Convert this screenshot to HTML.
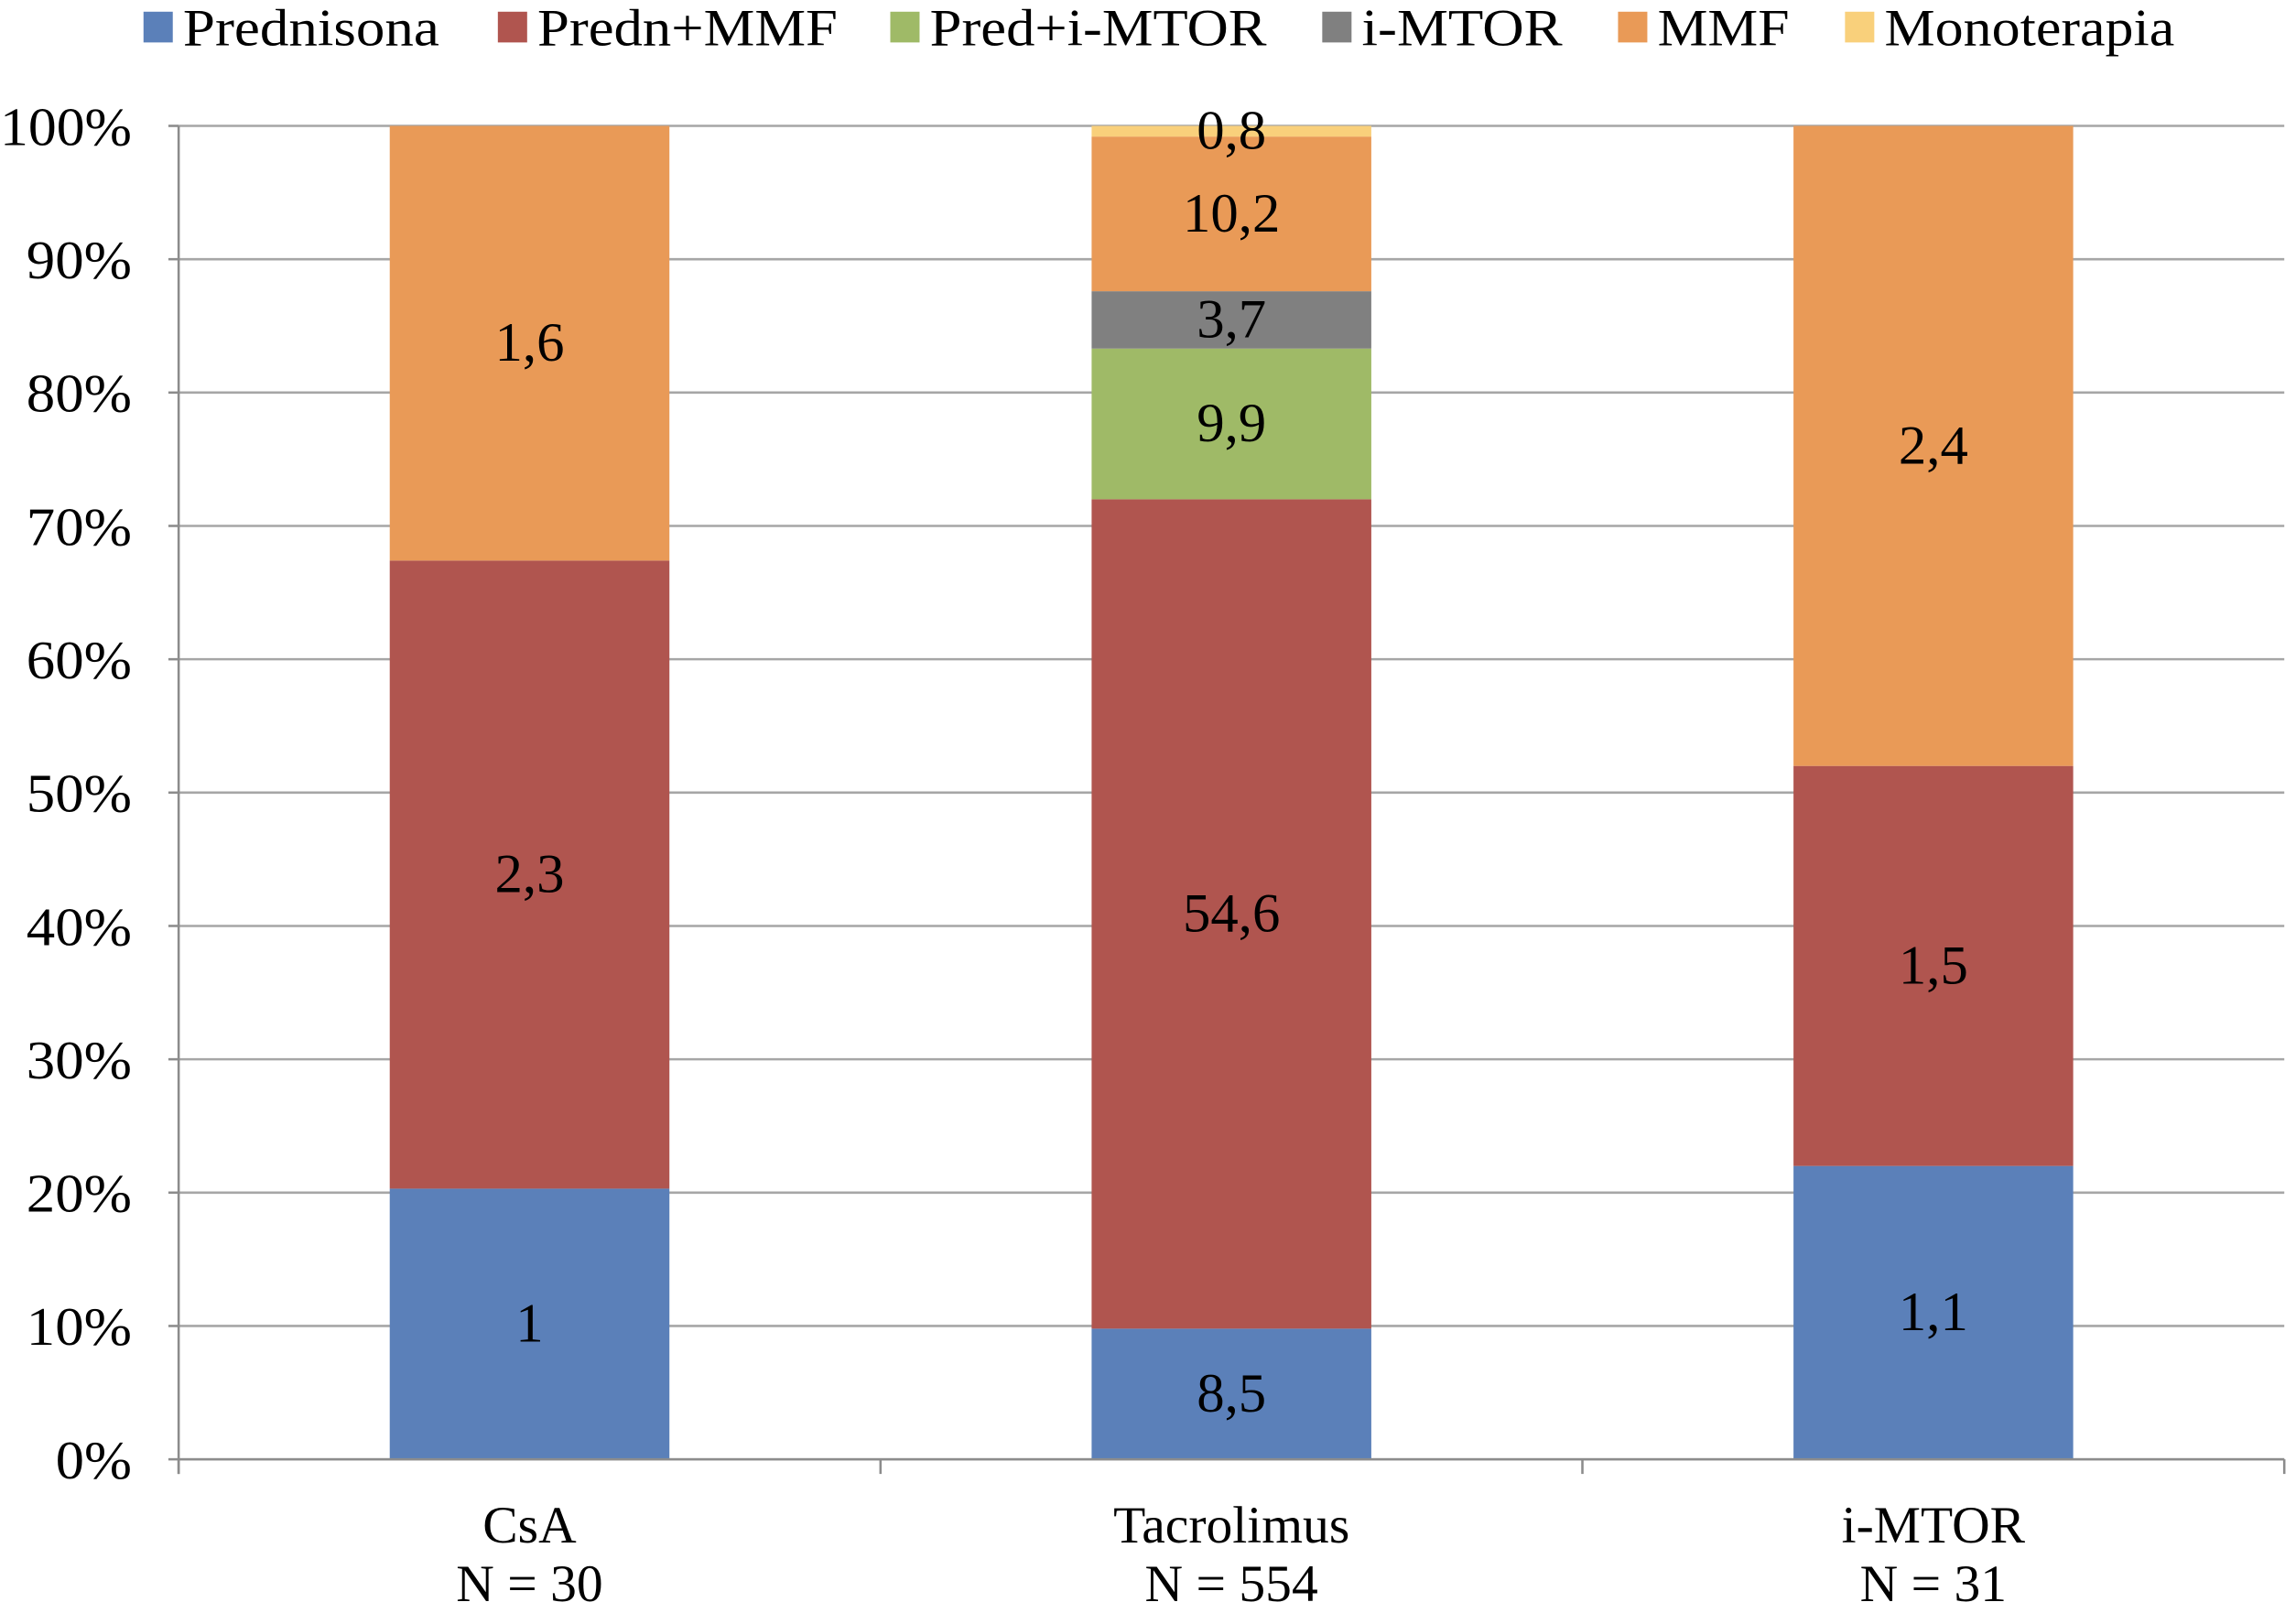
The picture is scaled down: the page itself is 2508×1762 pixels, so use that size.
<!DOCTYPE html>
<html><head><meta charset="utf-8"><style>
html,body{margin:0;padding:0;background:#fff;}
svg{display:block;}
text{font-family:"Liberation Serif",serif;fill:#000;}
</style></head><body>
<svg id="chart" width="2508" height="1762" viewBox="0 0 1568 1102" preserveAspectRatio="none" xmlns="http://www.w3.org/2000/svg">
<g id="legend"></g>
<g id="grid"></g>
<g id="bars"></g>
<g id="axes"></g>
</svg>
<script>
const categories = ["CsA", "Tacrolimus", "i-MTOR"];
const categoryN = ["N = 30", "N = 554", "N = 31"];
const seriesNames = ["Prednisona", "Predn+MMF", "Pred+i-MTOR", "i-MTOR", "MMF", "Monoterapia"];
const seriesColors = ["#5b80b9", "#b0554f", "#9fba67", "#808080", "#e99a57", "#f9d07b"];
const prednisona = [20.3, 9.8, 22.0];
const prednMMF = [47.1, 62.2, 30.0];
const predIMTOR = [0, 11.3, 0];
const iMTOR = [0, 4.3, 0];
const mmf = [32.6, 11.6, 48.0];
const monoterapia = [0, 0.8, 0];
const lblPrednisona = ["1", "8,5", "1,1"];
const lblPrednMMF = ["2,3", "54,6", "1,5"];
const lblPredIMTOR = ["", "9,9", ""];
const lblIMTOR = ["", "3,7", ""];
const lblMMF = ["1,6", "10,2", "2,4"];
const lblMonoterapia = ["", "0,8", ""];
const yTicks = [0, 10, 20, 30, 40, 50, 60, 70, 80, 90, 100];

const series = [prednisona, prednMMF, predIMTOR, iMTOR, mmf, monoterapia];
const labels = [lblPrednisona, lblPrednMMF, lblPredIMTOR, lblIMTOR, lblMMF, lblMonoterapia];
const NS = "http://www.w3.org/2000/svg";
const X0 = 122, X1 = 1560, Y0 = 997, Y1 = 86, BW = 191;
const y = v => Y0 - (v / 100) * (Y0 - Y1);
const band = (X1 - X0) / categories.length;
const xc = i => X0 + band * (i + 0.5);
function mk(tag, attrs, parent) {
  const e = document.createElementNS(NS, tag);
  for (const k in attrs) e.setAttribute(k, attrs[k]);
  parent.appendChild(e); return e;
}
const grid = document.getElementById('grid');
const axes = document.getElementById('axes');
const bars = document.getElementById('bars');
const legend = document.getElementById('legend');
yTicks.forEach(t => {
  const l = mk('line', {x1: X0, x2: X1, y1: y(t), y2: y(t), stroke: '#a6a6a6', 'stroke-width': 1.6}, grid);
  
  
  mk('line', {x1: X0 - 7, x2: X0, y1: y(t), y2: y(t), stroke: '#8c8c8c', 'stroke-width': 1.6}, axes);
  const s = t + '%';
  const tx = mk('text', {x: 90, y: y(t) + 13, 'text-anchor': 'end', 'font-size': 37, textLength: s.length === 4 ? 90 : (s.length === 3 ? 72 : 52), lengthAdjust: 'spacingAndGlyphs'}, axes);
  tx.textContent = s;
  
  
});
mk('line', {x1: X0, x2: X0, y1: Y1, y2: Y0 + 10, stroke: '#8c8c8c', 'stroke-width': 1.6}, axes);
mk('line', {x1: X0, x2: X1, y1: Y0, y2: Y0, stroke: '#8c8c8c', 'stroke-width': 1.6}, axes);
for (let i = 0; i <= categories.length; i++) {
  mk('line', {x1: X0 + band * i, x2: X0 + band * i, y1: Y0, y2: Y0 + 10, stroke: '#8c8c8c', 'stroke-width': 1.6}, axes);
}
categories.forEach((c, i) => {
  const t1 = mk('text', {x: xc(i), y: 1054, 'text-anchor': 'middle', 'font-size': 36}, axes);
  t1.textContent = c;
  
  
  const t2 = mk('text', {x: xc(i), y: 1094, 'text-anchor': 'middle', 'font-size': 36}, axes);
  t2.textContent = categoryN[i];
  
  
  let cum = 0;
  series.forEach((s, k) => {
    const v = s[i];
    if (v > 0) {
      const r = mk('rect', {x: xc(i) - BW / 2, y: y(cum + v), width: BW, height: y(cum) - y(cum + v), fill: seriesColors[k]}, bars);
      
      
      if (labels[k][i]) {
        const lt = mk('text', {x: xc(i), y: (y(cum) + y(cum + v)) / 2 + 12, 'text-anchor': 'middle', 'font-size': 38}, bars);
        lt.textContent = labels[k][i];
        
        
      }
    }
    cum += v;
  });
});
const legX = [98, 340, 608, 903, 1105, 1260];
const legW = [175, 205, 230, 137, 90, 198];
seriesNames.forEach((n, k) => {
  const sq = mk('rect', {x: legX[k], y: 8, width: 20, height: 21, fill: seriesColors[k]}, legend);
  
  
  const t = mk('text', {x: legX[k] + 27, y: 31, 'font-size': 36, textLength: legW[k], lengthAdjust: 'spacingAndGlyphs'}, legend);
  t.textContent = n;
  
  
});
</script>
</body></html>
